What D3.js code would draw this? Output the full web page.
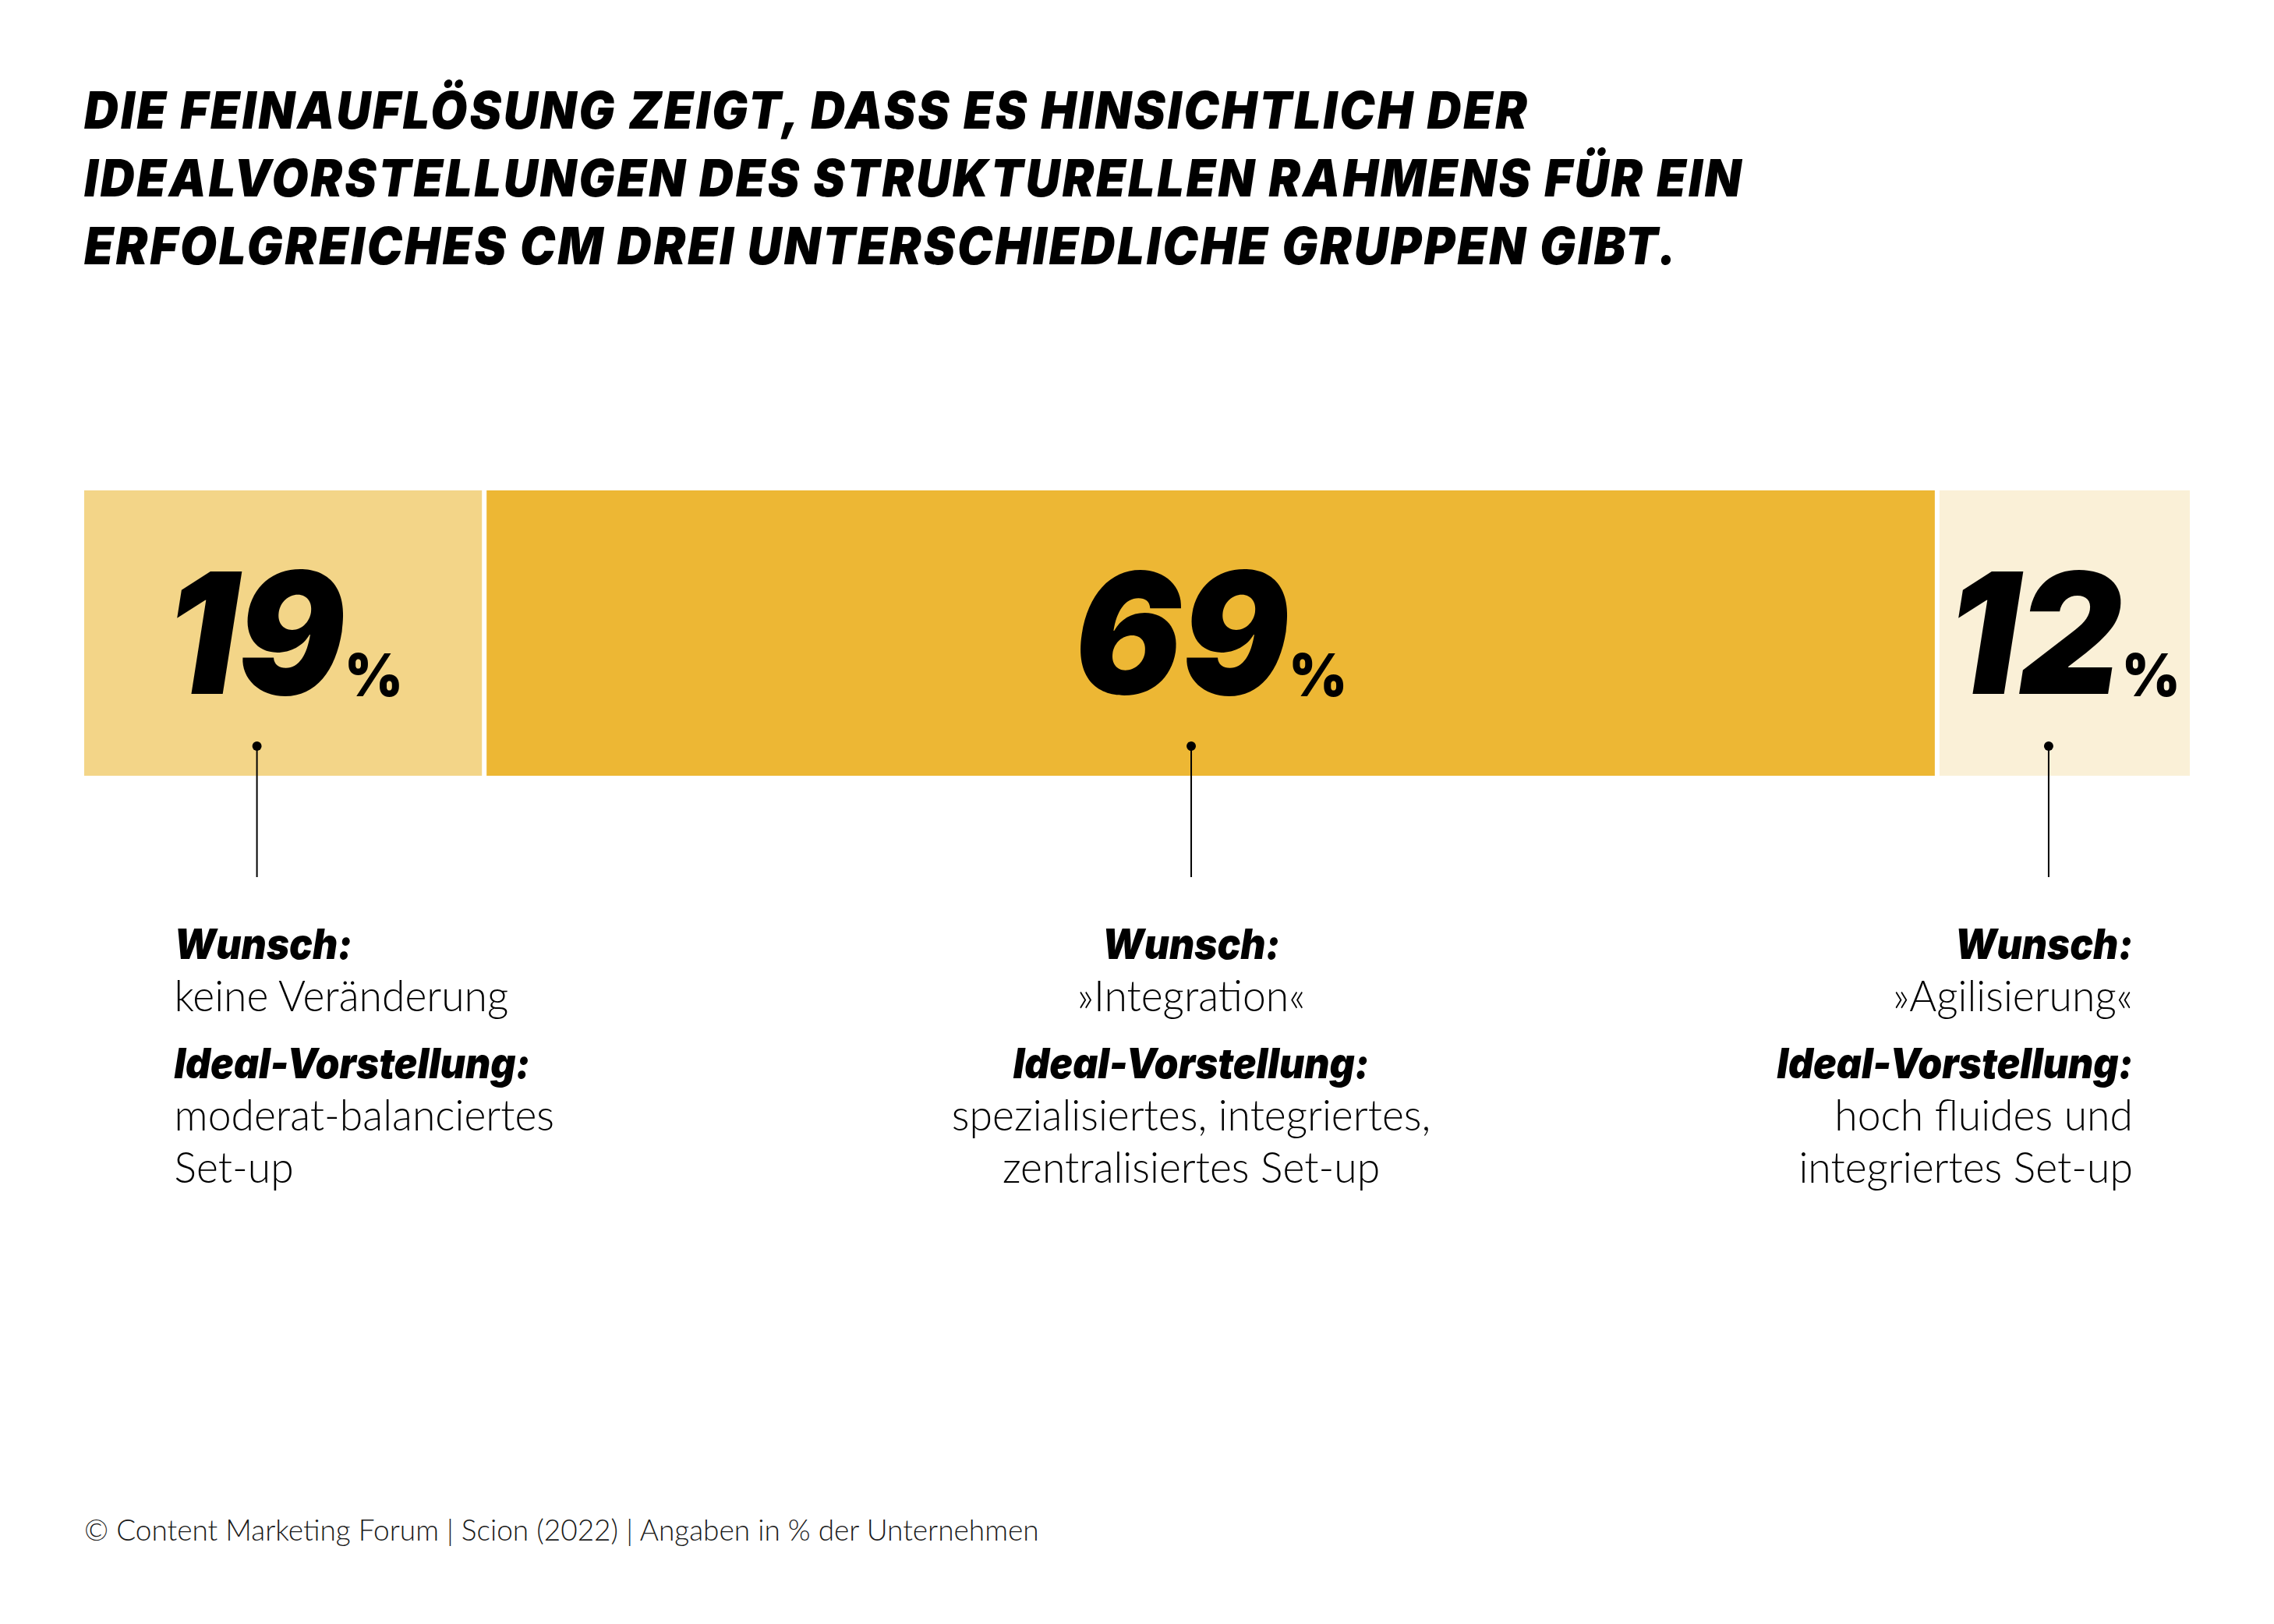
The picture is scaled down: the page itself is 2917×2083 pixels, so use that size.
<!DOCTYPE html>
<html><head><meta charset="utf-8">
<script src="https://cdn.jsdelivr.net/npm/d3@7"></script>
<style>html,body{margin:0;padding:0;background:#fff;}svg{display:block;}</style>
</head><body>
<script>
// ---- data ----
const titleLines = [
  "DIE FEINAUFLÖSUNG ZEIGT, DASS ES HINSICHTLICH DER",
  "IDEALVORSTELLUNGEN DES STRUKTURELLEN RAHMENS FÜR EIN",
  "ERFOLGREICHES CM DREI UNTERSCHIEDLICHE GRUPPEN GIBT."
];
const groups = ["Keine Veränderung", "Integration", "Agilisierung"];
const shares = [19, 69, 12];
const wishLabel = "Wunsch:";
const wishes = ["keine Veränderung", "»Integration«", "»Agilisierung«"];
const idealLabel = "Ideal-Vorstellung:";
const ideals = [
  ["moderat-balanciertes", "Set-up"],
  ["spezialisiertes, integriertes,", "zentralisiertes Set-up"],
  ["hoch fluides und", "integriertes Set-up"]
];
const footnote = "© Content Marketing Forum | Scion (2022) | Angaben in % der Unternehmen";

// ---- style ----
const colors = ["#F3D588", "#EDB734", "#FAF0D7"];
const pointerNudge = [-35, -25, -19];
const heavy = "Inter";
const W = 2917, H = 2083;
const svg = d3.select("body").append("svg").attr("width", W).attr("height", H);

const x = d3.scaleLinear().domain([0, 100]).range([108, 2809]);
const barTop = 629, barH = 366, gap = 3;

let acc = 0;
const segs = shares.map((v, i) => { const s = {i, v, start: acc, end: acc + v, name: groups[i]}; acc += v; return s; });

// title
const title = svg.append("g");
titleLines.forEach((t, i) => {
  title.append("text")
    .attr("transform", `translate(108,${165 + i * 87}) scale(0.92,1)`)
    .attr("font-family", heavy).attr("font-weight", 900).attr("font-style", "italic")
    .attr("letter-spacing", 3.3)
    .attr("font-size", 66).attr("fill", "#000").text(t);
});

// bars
svg.append("g").selectAll("rect").data(segs).join("rect")
  .attr("x", d => x(d.start) + (d.i > 0 ? gap : 0))
  .attr("y", barTop)
  .attr("width", d => x(d.end) - x(d.start) - (d.i > 0 ? gap : 0) - (d.i < segs.length - 1 ? gap : 0))
  .attr("height", barH)
  .attr("fill", d => colors[d.i]);

// big numbers
const nums = svg.append("g").selectAll("text").data(segs).join("text")
  .attr("transform", d => `translate(${x((d.start + d.end) / 2)},890) scale(0.945,1)`)
  .attr("text-anchor", "middle")
  .attr("font-family", heavy).attr("fill", "#000");
nums.append("tspan").attr("font-weight", 900).attr("font-style", "italic").attr("font-size", 216)
  .text(d => d.v);
nums.append("tspan").attr("font-weight", 900).attr("font-size", 76).attr("dx", 0).attr("dy", 3)
  .text("%");

// pointers
const px = d => x((d.start + d.end) / 2) + pointerNudge[d.i];
const ptr = svg.append("g");
ptr.selectAll("line").data(segs).join("line")
  .attr("x1", px).attr("x2", px).attr("y1", 957).attr("y2", 1125)
  .attr("stroke", "#000").attr("stroke-width", 2);
ptr.selectAll("circle").data(segs).join("circle")
  .attr("cx", px).attr("cy", 957).attr("r", 6).attr("fill", "#000");

// label blocks
const anchors = ["start", "middle", "end"];
const offs = [-106, 0, 108];
segs.forEach(d => {
  const g = svg.append("g").attr("transform", `translate(${px(d) + offs[d.i]},0)`);
  const a = anchors[d.i];
  const bold = (txt, y) => g.append("text").attr("transform", `translate(0,${y}) scale(0.92,1)`).attr("text-anchor", a)
    .attr("font-family", heavy).attr("font-weight", 900).attr("font-style", "italic")
    .attr("font-size", 54).attr("fill", "#000").text(txt);
  const light = (txt, y) => g.append("text").attr("transform", `translate(0,${y}) scale(0.955,1)`).attr("text-anchor", a)
    .attr("font-family", "Lato").attr("font-weight", 300)
    .attr("font-size", 56).attr("fill", "#000").text(txt);
  bold(wishLabel, 1230);
  light(wishes[d.i], 1297);
  bold(idealLabel, 1383);
  ideals[d.i].forEach((t, k) => light(t, 1450 + k * 67));
});

// footnote
svg.append("text").attr("x", 108).attr("y", 1976)
  .attr("font-family", "Lato").attr("font-weight", 300).attr("font-size", 37)
  .attr("fill", "#1a1a1a").text(footnote);
</script>
</body></html>
